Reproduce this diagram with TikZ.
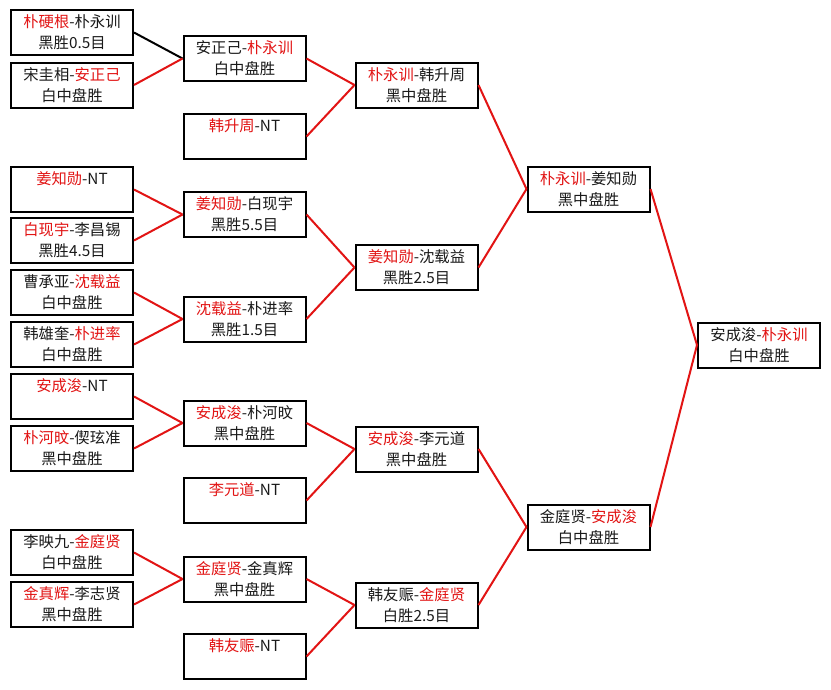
\documentclass[tikz,border=0pt]{standalone}
\usepackage{fontspec}
\setmainfont{Noto Sans CJK SC}
\definecolor{wred}{RGB}{226,20,20}
\definecolor{wtxt}{RGB}{25,25,25}
\newcommand\redtxt[1]{\textcolor{wred}{#1}}
\tikzset{
  game/.style={draw=black, line width=2pt, fill=white, minimum width=122pt, minimum height=45pt,
    inner sep=0pt, align=center, text=wtxt, font=\fontsize{15.3}{21}\selectfont},
  win/.style={draw=wred, line width=2pt},
  loss/.style={draw=black, line width=2pt}
}
\newcommand\nt{\\\phantom{中}}
\begin{document}
\begin{tikzpicture}[x=1pt,y=-1pt]
\useasboundingbox[fill=white] (0,0) rectangle (831,689);
% column 1
\node[game] (c1a) at (72,32.5) {\redtxt{朴硬根}-朴永训\\黑胜0.5目};
\node[game] (c1b) at (72,85) {宋圭相-\redtxt{安正己}\\白中盘胜};
\node[game] (c1c) at (72,189.5) {\redtxt{姜知勋}-NT\nt};
\node[game] (c1d) at (72,240.5) {\redtxt{白现宇}-李昌锡\\黑胜4.5目};
\node[game] (c1e) at (72,292.5) {曹承亚-\redtxt{沈载益}\\白中盘胜};
\node[game] (c1f) at (72,344.5) {韩雄奎-\redtxt{朴进率}\\白中盘胜};
\node[game] (c1g) at (72,396.5) {\redtxt{安成浚}-NT\nt};
\node[game] (c1h) at (72,448.5) {\redtxt{朴河旼}-偰玹准\\黑中盘胜};
\node[game] (c1i) at (72,552.5) {李映九-\redtxt{金庭贤}\\白中盘胜};
\node[game] (c1j) at (72,604.5) {\redtxt{金真辉}-李志贤\\黑中盘胜};
% column 2
\node[game] (c2a) at (244.5,58.5) {安正己-\redtxt{朴永训}\\白中盘胜};
\node[game] (c2b) at (244.5,136.5) {\redtxt{韩升周}-NT\nt};
\node[game] (c2c) at (244.5,214.5) {\redtxt{姜知勋}-白现宇\\黑胜5.5目};
\node[game] (c2d) at (244.5,319) {\redtxt{沈载益}-朴进率\\黑胜1.5目};
\node[game] (c2e) at (244.5,423) {\redtxt{安成浚}-朴河旼\\黑中盘胜};
\node[game] (c2f) at (244.5,500.5) {\redtxt{李元道}-NT\nt};
\node[game] (c2g) at (244.5,579) {\redtxt{金庭贤}-金真辉\\黑中盘胜};
\node[game] (c2h) at (244.5,656.5) {\redtxt{韩友赈}-NT\nt};
% column 3
\node[game] (c3a) at (416.5,85) {\redtxt{朴永训}-韩升周\\黑中盘胜};
\node[game] (c3b) at (416.5,267.5) {\redtxt{姜知勋}-沈载益\\黑胜2.5目};
\node[game] (c3c) at (416.5,449) {\redtxt{安成浚}-李元道\\黑中盘胜};
\node[game] (c3d) at (416.5,605) {韩友赈-\redtxt{金庭贤}\\白胜2.5目};
% column 4
\node[game] (c4a) at (588.5,189) {\redtxt{朴永训}-姜知勋\\黑中盘胜};
\node[game] (c4b) at (588.5,527) {金庭贤-\redtxt{安成浚}\\白中盘胜};
% final
\node[game] (fin) at (759,345) {安成浚-\redtxt{朴永训}\\白中盘胜};
% connectors
\draw[loss] (c1a.east) -- (c2a.west);
\draw[win] (c1b.east) -- (c2a.west);
\draw[win] (c1c.east) -- (c2c.west);
\draw[win] (c1d.east) -- (c2c.west);
\draw[win] (c1e.east) -- (c2d.west);
\draw[win] (c1f.east) -- (c2d.west);
\draw[win] (c1g.east) -- (c2e.west);
\draw[win] (c1h.east) -- (c2e.west);
\draw[win] (c1i.east) -- (c2g.west);
\draw[win] (c1j.east) -- (c2g.west);
\draw[win] (c2a.east) -- (c3a.west);
\draw[win] (c2b.east) -- (c3a.west);
\draw[win] (c2c.east) -- (c3b.west);
\draw[win] (c2d.east) -- (c3b.west);
\draw[win] (c2e.east) -- (c3c.west);
\draw[win] (c2f.east) -- (c3c.west);
\draw[win] (c2g.east) -- (c3d.west);
\draw[win] (c2h.east) -- (c3d.west);
\draw[win] (c3a.east) -- (c4a.west);
\draw[win] (c3b.east) -- (c4a.west);
\draw[win] (c3c.east) -- (c4b.west);
\draw[win] (c3d.east) -- (c4b.west);
\draw[win] (c4a.east) -- (fin.west);
\draw[win] (c4b.east) -- (fin.west);
\end{tikzpicture}
\end{document}
